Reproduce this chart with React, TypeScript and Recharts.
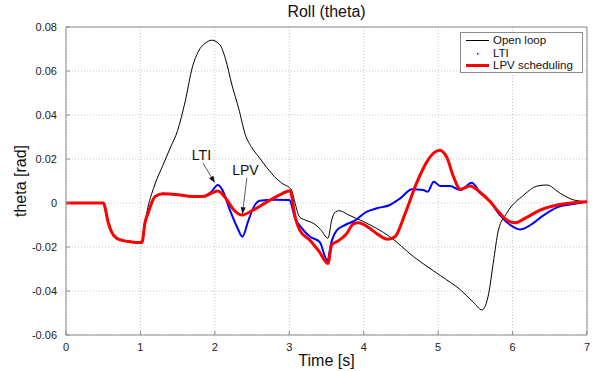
import React from "react"
import { LineChart, Line, XAxis, YAxis, CartesianGrid, ReferenceLine, ReferenceDot, Label } from "recharts"

const FONT = "Arial, 'Liberation Sans', Helvetica, sans-serif"

// time [s] and roll [rad]
const openLoopTime = [0, 0.5, 0.57, 0.61, 0.68, 0.77, 0.86, 1.02, 1.06, 1.1, 1.15, 1.2, 1.3, 1.4, 1.5, 1.6, 1.7, 1.78, 1.87, 1.96, 2.07, 2.14, 2.23, 2.32, 2.41, 2.5, 2.6, 2.7, 2.8, 2.9, 3.0, 3.03, 3.06, 3.14, 3.21, 3.32, 3.42, 3.52, 3.57, 3.62, 3.67, 3.8, 4.0, 4.35, 4.67, 5.03, 5.3, 5.47, 5.59, 5.68, 5.74, 5.81, 5.92, 6.15, 6.33, 6.46, 6.64, 6.82, 7.0]
const openLoopTheta = [0, 0, -0.0092, -0.013, -0.016, -0.0171, -0.0176, -0.018, -0.0092, -0.002, 0.004, 0.009, 0.017, 0.025, 0.033, 0.046, 0.062, 0.069, 0.0726, 0.074, 0.0718, 0.0658, 0.0536, 0.043, 0.031, 0.025, 0.0205, 0.016, 0.012, 0.009, 0.007, 0.006, 0.0023, -0.0064, -0.0077, -0.0092, -0.012, -0.016, -0.0077, -0.004, -0.0035, -0.0055, -0.0085, -0.0153, -0.0244, -0.033, -0.0395, -0.045, -0.0486, -0.041, -0.0274, -0.0123, -0.0047, 0.0036, 0.0077, 0.0082, 0.0044, 0.0014, 0.0006]

const ltiTime = [0, 0.5, 0.57, 0.61, 0.68, 0.77, 0.86, 1.02, 1.06, 1.11, 1.15, 1.2, 1.3, 1.5, 1.7, 1.84, 1.95, 2.04, 2.1, 2.2, 2.3, 2.37, 2.45, 2.52, 2.6, 2.8, 3.0, 3.08, 3.17, 3.28, 3.41, 3.51, 3.57, 3.64, 3.75, 3.88, 4.03, 4.18, 4.35, 4.49, 4.65, 4.8, 4.86, 4.94, 5.03, 5.16, 5.3, 5.45, 5.56, 5.7, 5.83, 5.97, 6.1, 6.24, 6.42, 6.6, 6.82, 7.0]
const ltiTheta = [0, 0, -0.0092, -0.013, -0.016, -0.0171, -0.0176, -0.018, -0.0092, -0.004, 0.0, 0.003, 0.0042, 0.0038, 0.003, 0.003, 0.005, 0.0082, 0.006, -0.003, -0.011, -0.0153, -0.008, -0.002, 0.001, 0.0015, 0.0014, -0.007, -0.0115, -0.0153, -0.0178, -0.026, -0.0172, -0.0123, -0.01, -0.008, -0.0042, -0.0024, -0.0009, 0.0021, 0.0062, 0.0059, 0.0051, 0.0097, 0.0077, 0.0077, 0.0059, 0.0092, 0.0051, 0.0006, -0.0055, -0.01, -0.012, -0.01, -0.0055, -0.002, -0.0005, 0.0006]

const lpvTime = [0, 0.5, 0.57, 0.61, 0.68, 0.77, 0.86, 1.02, 1.06, 1.11, 1.15, 1.2, 1.3, 1.5, 1.7, 1.84, 2.04, 2.15, 2.25, 2.36, 2.5, 2.7, 2.9, 3.01, 3.08, 3.14, 3.28, 3.4, 3.52, 3.57, 3.66, 3.77, 3.86, 3.93, 4.06, 4.2, 4.32, 4.42, 4.56, 4.71, 4.85, 4.95, 5.02, 5.12, 5.2, 5.3, 5.43, 5.56, 5.7, 5.83, 5.92, 6.03, 6.19, 6.37, 6.6, 6.82, 7.0]
const lpvTheta = [0, 0, -0.0092, -0.013, -0.016, -0.0171, -0.0176, -0.018, -0.0092, -0.004, 0.0, 0.003, 0.0042, 0.0038, 0.003, 0.003, 0.0055, 0.002, -0.003, -0.0055, -0.0035, 0.0005, 0.0042, 0.0056, -0.0065, -0.0123, -0.017, -0.022, -0.0275, -0.019, -0.0172, -0.014, -0.0095, -0.009, -0.011, -0.0145, -0.0165, -0.0153, -0.0045, 0.009, 0.0188, 0.023, 0.024, 0.0205, 0.0125, 0.0062, 0.0077, 0.0049, 0.0006, -0.0047, -0.0077, -0.009, -0.0065, -0.0032, -0.0009, 0.0001, 0.0006]

const xTicks = [0, 1, 2, 3, 4, 5, 6, 7]
const yTicks = [-0.06, -0.04, -0.02, 0, 0.02, 0.04, 0.06, 0.08]

const zip = (ts: number[], vs: number[]) => ts.map((t, i) => ({ t, theta: vs[i] }))

const series = [
  { name: "Open loop", data: zip(openLoopTime, openLoopTheta), color: "#000000", width: 1 },
  { name: "LTI", data: zip(ltiTime, ltiTheta), color: "#0000ff", width: 2 },
  { name: "LPV scheduling", data: zip(lpvTime, lpvTheta), color: "#ff0000", width: 3 },
]

const frame = "#8c8c8c"

const Arrow = (props: any) => {
  const { x1, y1, x2, y2 } = props
  const a = Math.atan2(y2 - y1, x2 - x1)
  const L = 7
  const W = 2.5
  const bx = x2 - L * Math.cos(a)
  const by = y2 - L * Math.sin(a)
  const px = -Math.sin(a) * W
  const py = Math.cos(a) * W
  return (
    <g>
      <line x1={x1} y1={y1} x2={bx} y2={by} stroke="#333" strokeWidth={0.8} />
      <polygon points={`${x2},${y2} ${bx + px},${by + py} ${bx - px},${by - py}`} fill="#111" />
    </g>
  )
}

export default function App() {
  return (
    <div style={{ position: "absolute", left: 0, top: 0, width: 602, height: 371, background: "#fff", fontFamily: FONT }}>
      <div style={{ position: "absolute", left: 66, width: 521, top: 3, textAlign: "center", fontSize: 16, color: "#111" }}>
        Roll (theta)
      </div>
      <LineChart width={602} height={371} margin={{ top: 27, right: 15, bottom: 0, left: 0 }}>
        <CartesianGrid stroke="#c8c8c8" strokeDasharray="1 2" />
        <XAxis
          type="number"
          dataKey="t"
          domain={[0, 7]}
          ticks={xTicks}
          height={36}
          stroke={frame}
          tickSize={-4}
          tickMargin={12}
          tick={{ fill: "#222", fontSize: 11, fontFamily: FONT }}
          allowDuplicatedCategory={false}
        >
          <Label
            content={(p: any) => (
              <text x={p.viewBox.x + p.viewBox.width / 2} y={p.viewBox.y + 31} textAnchor="middle" fontSize={16} fill="#111" fontFamily={FONT}>
                Time [s]
              </text>
            )}
          />
        </XAxis>
        <YAxis
          type="number"
          domain={[-0.06, 0.08]}
          ticks={yTicks}
          width={66}
          stroke={frame}
          tickSize={-4}
          tickMargin={13}
          tick={{ fill: "#222", fontSize: 11, fontFamily: FONT }}
          tickFormatter={(v: number) => (Math.abs(v) < 1e-9 ? "0" : v.toFixed(2))}
        >
          <Label
            content={(p: any) => {
              const cx = p.viewBox.x + 26
              const cy = p.viewBox.y + p.viewBox.height / 2
              return (
                <text x={cx} y={cy} transform={`rotate(-90 ${cx} ${cy})`} textAnchor="middle" fontSize={16} fill="#111" fontFamily={FONT}>
                  theta [rad]
                </text>
              )
            }}
          />
        </YAxis>
        <ReferenceLine y={0.08} stroke={frame} />
        <ReferenceLine x={7} stroke={frame} />
        {series.map((s) => (
          <Line
            key={s.name}
            data={s.data}
            dataKey="theta"
            name={s.name}
            type="monotone"
            stroke={s.color}
            strokeWidth={s.width}
            dot={false}
            isAnimationActive={false}
          />
        ))}
        <ReferenceLine segment={[{ x: 1.84, y: 0.0182 }, { x: 2.0, y: 0.0091 }]} shape={Arrow} />
        <ReferenceLine segment={[{ x: 2.43, y: 0.0114 }, { x: 2.37, y: -0.0051 }]} shape={Arrow} />
        <ReferenceDot x={1.82} y={0.0218} r={0} label={{ value: "LTI", position: "center", fontSize: 14, fill: "#111", fontFamily: FONT }} />
        <ReferenceDot x={2.41} y={0.015} r={0} label={{ value: "LPV", position: "center", fontSize: 14, fill: "#111", fontFamily: FONT }} />
      </LineChart>
      <div
        style={{
          position: "absolute",
          left: 460,
          top: 32,
          width: 121,
          height: 37,
          border: `1px solid ${frame}`,
          background: "#fff",
          fontSize: 11.5,
          color: "#111",
          padding: "1px 0",
        }}
      >
        {series.map((s) => (
          <div key={s.name} style={{ display: "flex", alignItems: "center", height: 12.5 }}>
            <svg width={32} height={10} style={{ flex: "none" }}>
              {s.name === "LTI" ? (
                <rect x={16} y={5} width={1.5} height={1.5} fill={s.color} />
              ) : (
                <line x1={5} x2={28} y1={5.5} y2={5.5} stroke={s.color} strokeWidth={s.width} />
              )}
            </svg>
            <span style={{ lineHeight: "12px" }}>{s.name}</span>
          </div>
        ))}
      </div>
    </div>
  )
}
